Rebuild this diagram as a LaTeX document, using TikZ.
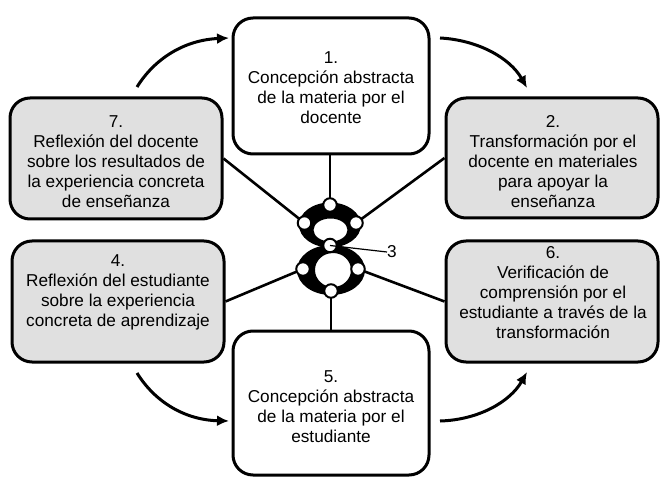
\documentclass[tikz,border=0pt]{standalone}
\usepackage{fontspec}
\setmainfont{Liberation Sans}
\usetikzlibrary{arrows.meta}
\definecolor{boxgray}{RGB}{224,224,224}
\tikzset{
  box/.style={draw=black, line width=3pt, rounded corners=20pt, inner sep=0pt},
  graybox/.style={box, fill=boxgray},
  whitebox/.style={box, fill=white},
  txt/.style={align=center, inner sep=0pt, font=\fontsize{17.2}{20}\selectfont},
  spoke/.style={line width=2.6pt},
  knob/.style={circle, draw=black, fill=white, line width=2pt, minimum size=13.5pt, inner sep=0pt},
  flow/.style={line width=3pt, -{Latex[length=12pt,width=11pt]}},
}
\begin{document}
\begin{tikzpicture}[x=1pt,y=-1pt]
\useasboundingbox (0,0) rectangle (661,478);
% boxes
\node[whitebox, minimum width=196pt, minimum height=136pt] (b1) at (331,86) {};
\node[graybox, minimum width=212pt, minimum height=120pt] (b2) at (552,158) {};
\node[graybox, minimum width=212pt, minimum height=121pt] (b7) at (116,158.5) {};
\node[graybox, minimum width=212pt, minimum height=121pt] (b4) at (118,301.5) {};
\node[graybox, minimum width=212pt, minimum height=121pt] (b6) at (552,301.5) {};
\node[whitebox, minimum width=196pt, minimum height=144pt] (b5) at (331,403) {};
% texts
\node[txt] (t1) at (331,88) {1.\\Concepción abstracta\\de la materia por el\\docente};
\node[txt] (t2) at (553,162) {2.\\Transformación por el\\docente en materiales\\para apoyar la\\enseñanza};
\node[txt] (t7) at (116,162) {7.\\Reflexión del docente\\sobre los resultados de\\la experiencia concreta\\de enseñanza};
\node[txt] (t4) at (118,292) {4.\\Reflexión del estudiante\\sobre la experiencia\\concreta de aprendizaje};
\node[txt] (t6) at (553,293) {6.\\Verificación de\\comprensión por el\\estudiante a través de la\\transformación};
\node[txt] (t5) at (331,407) {5.\\Concepción abstracta\\de la materia por el\\estudiante};
% knob positions
\coordinate (kt) at (330,205);
\coordinate (kul) at (304.5,223);
\coordinate (kur) at (356,223);
\coordinate (kj) at (330,245.5);
\coordinate (kll) at (303,269);
\coordinate (klr) at (358,269);
\coordinate (kb) at (331,291);
% spokes
\draw[spoke] (b1.south -| kt) -- (kt);
\draw[spoke] (b7.east) -- (kul);
\draw[spoke] (b2.west) -- (kur);
\draw[spoke] (b4.east) -- (kll);
\draw[spoke] (b6.west) -- (klr);
\draw[spoke] (b5.north -| kb) -- (kb);
% rings
\fill[black, even odd rule] (330,225) ellipse [x radius=31, y radius=22.5]
  (330.5,230) ellipse [x radius=17, y radius=11.5];
\fill[black, even odd rule] (331,270) ellipse [x radius=34, y radius=25]
  (333,270) ellipse [x radius=18, y radius=17];
% knobs
\node[knob] (n1) at (kt) {};
\node[knob] (n7) at (kul) {};
\node[knob] (n2) at (kur) {};
\node[knob] (n3) at (kj) {};
\node[knob] (n4) at (kll) {};
\node[knob] (n6) at (klr) {};
\node[knob] (n5) at (kb) {};
% label 3
\node[txt, anchor=west] (l3) at (387,252) {3};
\draw[line width=1.2pt] (n3.center) -- (l3.west);
% flow arrows
\coordinate (a7s) at (137,87);
\coordinate (a1e) at (229,38);
\coordinate (a1s) at (440,38);
\coordinate (a2e) at (527,88);
\coordinate (a4s) at (137,373);
\coordinate (a5e) at (229,421);
\coordinate (a5s) at (440,421);
\coordinate (a6e) at (527,372);
\draw[flow] (a7s) .. controls (155,58) and (185,40) .. (a1e);
\draw[flow] (a1s) .. controls (478,40) and (510,58) .. (a2e);
\draw[flow] (a4s) .. controls (155,402) and (185,420) .. (a5e);
\draw[flow] (a5s) .. controls (478,420) and (510,402) .. (a6e);
\end{tikzpicture}
\end{document}
